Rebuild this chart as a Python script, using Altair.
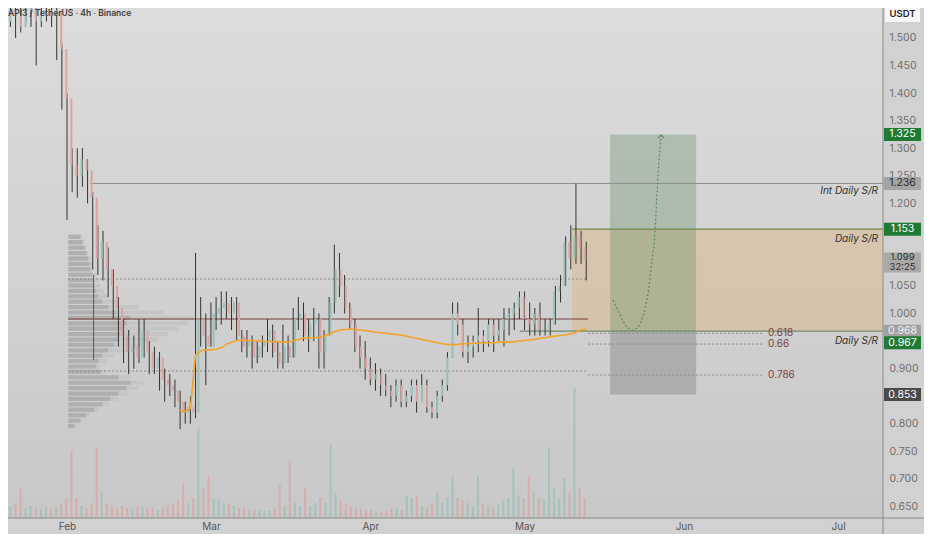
import altair as alt
import pandas as pd

# ---------------- data ----------------
TITLE = "API3 / TetherUS · 4h · Binance"
FIRST_DAY = "2025-01-19"

opens = [1.54, 1.53, 1.55, 1.54, 1.52, 1.55, 1.56, 1.53, 1.54, 1.55,
         1.54, 1.55, 1.48, 1.39, 1.27, 1.25, 1.28, 1.26, 1.21, 1.10,
         1.13, 1.08, 1.05, 1.01, 0.96, 0.93, 0.94, 0.92, 0.97, 0.93,
         0.90, 0.92, 0.88, 0.87, 0.86, 0.84, 0.82, 0.83, 0.82, 0.99,
         0.96, 0.94, 1.00, 1.01, 1.02, 1.00, 1.02, 0.96, 0.94, 0.95,
         0.92, 0.94, 0.95, 0.97, 0.93, 0.91, 0.94, 0.92, 0.99, 1.00,
         0.96, 0.98, 0.99, 0.93, 0.96, 1.02, 1.08, 1.05, 1.01, 0.98,
         0.94, 0.92, 0.90, 0.88, 0.89, 0.87, 0.86, 0.85, 0.87, 0.84,
         0.85, 0.87, 0.84, 0.87, 0.83, 0.82, 0.85, 0.87, 0.92, 1.00,
         0.98, 0.93, 0.94, 0.95, 0.96, 0.95, 0.98, 0.96, 0.97, 0.99,
         1.00, 1.01, 1.03, 0.99, 0.98, 1.00, 0.97, 0.97, 0.98, 1.04,
         1.05, 1.13, 1.10, 1.14, 1.12]
highs = [1.57, 1.56, 1.57, 1.57, 1.56, 1.57, 1.57, 1.56, 1.57, 1.57,
         1.57, 1.57, 1.49, 1.40, 1.30, 1.30, 1.30, 1.28, 1.22, 1.16,
         1.15, 1.12, 1.08, 1.03, 0.99, 0.97, 0.96, 0.99, 0.99, 0.95,
         0.94, 0.93, 0.90, 0.89, 0.88, 0.86, 0.84, 0.85, 1.11, 1.03,
         1.00, 1.02, 1.03, 1.04, 1.04, 1.03, 1.03, 0.97, 0.97, 0.96,
         0.95, 0.96, 0.99, 0.98, 0.95, 0.98, 0.96, 1.01, 1.03, 1.02,
         0.99, 1.01, 1.00, 0.97, 1.03, 1.125, 1.11, 1.07, 1.02, 0.99,
         0.96, 0.95, 0.92, 0.91, 0.90, 0.89, 0.87, 0.88, 0.88, 0.86,
         0.88, 0.88, 0.89, 0.88, 0.84, 0.86, 0.88, 0.93, 1.02, 1.02,
         0.99, 0.96, 0.96, 1.01, 0.97, 0.99, 0.99, 0.99, 1.01, 1.01,
         1.02, 1.04, 1.04, 1.02, 1.01, 1.02, 0.99, 0.99, 1.05, 1.07,
         1.14, 1.16, 1.236, 1.15, 1.13]
lows = [1.52, 1.50, 1.52, 1.50, 1.51, 1.53, 1.52, 1.45, 1.52, 1.53,
        1.52, 1.46, 1.37, 1.17, 1.22, 1.21, 1.23, 1.20, 1.08, 1.07,
        1.06, 1.03, 0.99, 0.94, 0.91, 0.89, 0.90, 0.91, 0.92, 0.89,
        0.89, 0.86, 0.84, 0.85, 0.83, 0.79, 0.80, 0.80, 0.81, 0.94,
        0.87, 0.94, 0.97, 0.98, 0.99, 0.97, 0.95, 0.93, 0.92, 0.90,
        0.91, 0.92, 0.93, 0.92, 0.90, 0.90, 0.91, 0.92, 0.97, 0.95,
        0.93, 0.95, 0.90, 0.90, 0.96, 1.00, 1.03, 1.00, 0.97, 0.93,
        0.90, 0.88, 0.87, 0.86, 0.85, 0.85, 0.83, 0.84, 0.83, 0.83,
        0.84, 0.82, 0.84, 0.82, 0.81, 0.81, 0.84, 0.86, 0.92, 0.96,
        0.92, 0.91, 0.92, 0.93, 0.93, 0.94, 0.93, 0.95, 0.94, 0.96,
        0.97, 0.99, 0.97, 0.96, 0.96, 0.96, 0.96, 0.96, 0.98, 1.02,
        1.05, 1.08, 1.09, 1.09, 1.06]
closes = [1.53, 1.55, 1.54, 1.52, 1.55, 1.56, 1.53, 1.54, 1.55, 1.54,
          1.55, 1.48, 1.39, 1.27, 1.25, 1.28, 1.26, 1.21, 1.10, 1.13,
          1.08, 1.05, 1.01, 0.96, 0.93, 0.94, 0.92, 0.97, 0.93, 0.90,
          0.92, 0.88, 0.87, 0.86, 0.84, 0.82, 0.83, 0.82, 0.99, 0.96,
          0.94, 1.00, 1.01, 1.02, 1.00, 1.02, 0.96, 0.94, 0.95, 0.92,
          0.94, 0.95, 0.97, 0.93, 0.91, 0.94, 0.92, 0.99, 1.00, 0.96,
          0.98, 0.99, 0.93, 0.96, 1.02, 1.08, 1.05, 1.01, 0.98, 0.94,
          0.92, 0.90, 0.88, 0.89, 0.87, 0.86, 0.85, 0.87, 0.84, 0.85,
          0.87, 0.84, 0.87, 0.83, 0.82, 0.85, 0.87, 0.92, 1.00, 0.98,
          0.93, 0.94, 0.95, 0.96, 0.95, 0.98, 0.96, 0.97, 0.99, 1.00,
          1.01, 1.03, 0.99, 0.98, 1.00, 0.97, 0.97, 0.98, 1.04, 1.05,
          1.13, 1.10, 1.14, 1.12, 1.099]
volumes = [45, 12, 14, 30, 10, 12, 10, 9, 11, 10,
           12, 14, 20, 67, 20, 12, 10, 15, 70, 25,
           15, 12, 10, 12, 10, 9, 11, 12, 9, 10,
           8, 10, 12, 14, 18, 35, 15, 20, 90, 30,
           42, 20, 18, 15, 14, 12, 10, 10, 8, 9,
           8, 7, 8, 10, 33, 12, 57, 15, 12, 30,
           12, 15, 20, 15, 73, 25, 18, 14, 12, 10,
           9, 8, 8, 7, 6, 7, 9, 10, 8, 22,
           20, 22, 12, 10, 15, 25, 15, 20, 42, 20,
           18, 15, 12, 42, 15, 12, 10, 14, 18, 20,
           50, 22, 20, 42, 25, 20, 18, 70, 30, 20,
           40, 25, 130, 30, 20]

VWAP_FIRST_INDEX = 35
vwap = [0.825, 0.822, 0.828, 0.925, 0.932, 0.934, 0.934, 0.935, 0.938, 0.944,
        0.948, 0.951, 0.952, 0.951, 0.951, 0.950, 0.950, 0.949, 0.949, 0.949,
        0.948, 0.948, 0.950, 0.953, 0.955, 0.956, 0.956, 0.957, 0.959, 0.963,
        0.967, 0.970, 0.971, 0.972, 0.971, 0.970, 0.969, 0.968, 0.966, 0.965,
        0.964, 0.963, 0.962, 0.961, 0.959, 0.957, 0.955, 0.953, 0.951, 0.949,
        0.947, 0.945, 0.944, 0.943, 0.944, 0.945, 0.945, 0.946, 0.946, 0.947,
        0.947, 0.947, 0.948, 0.948, 0.948, 0.949, 0.950, 0.951, 0.952, 0.953,
        0.955, 0.956, 0.958, 0.959, 0.960, 0.961, 0.963, 0.966, 0.970, 0.972]

profile_price = [1.14, 1.13, 1.12, 1.11, 1.10, 1.09, 1.08, 1.07, 1.06, 1.05,
                 1.04, 1.03, 1.02, 1.01, 1.00, 0.99, 0.98, 0.97, 0.96, 0.95,
                 0.94, 0.93, 0.92, 0.91, 0.90, 0.89, 0.88, 0.87, 0.86, 0.85,
                 0.84, 0.83, 0.82, 0.81, 0.80, 0.79]
profile_inner = [12, 14, 16, 18, 20, 21, 22, 24, 25, 26, 28, 30, 34, 40, 48, 62, 58, 55,
                 52, 50, 46, 40, 34, 30, 28, 32, 50, 62, 58, 50, 42, 34, 26, 18, 12, 6]
profile_outer = [14, 16, 18, 20, 23, 24, 25, 28, 30, 32, 36, 40, 50, 70, 95, 125, 120, 110,
                 100, 90, 75, 60, 45, 38, 32, 38, 62, 75, 70, 60, 50, 40, 30, 22, 14, 8]

price_ticks = [0.65, 0.70, 0.75, 0.80, 0.90, 1.00, 1.05, 1.20, 1.25, 1.30,
               1.35, 1.40, 1.45, 1.50]
month_ticks = [2, 3, 4, 5, 6, 7]

VIEW_START = alt.DateTime(year=2025, month=1, date=20, hours=12, minutes=30)
VIEW_END = alt.DateTime(year=2025, month=7, date=9, hours=17, minutes=30)
VIEW_END_STR = "2025-07-09T17:30:00"
PRICE_MIN, PRICE_MAX = 0.6289, 1.5544

int_sr_level, int_sr_start = 1.236, "2025-02-05T11:00:00"
sr_top_level, sr_top_start = 1.153, "2025-05-10T06:00:00"
sr_bot_level, sr_bot_start = 0.968, "2025-04-30T02:00:00"
left_start, left_end = "2025-02-01T05:00:00", "2025-05-13T08:40:00"
poc_level = 0.990
dotted_levels = [1.0626, 0.8956]
marker_time, marker_low, marker_high = "2025-02-06T04:00:00", 0.916, 1.070

fib_names = ["0.618", "0.66", "0.786"]
fib_prices = [0.964, 0.9446, 0.8884]
fib_start, fib_end, fib_label_time = "2025-05-13T09:30:00", "2025-06-16T09:30:00", "2025-06-17T09:00:00"

box_start, box_end = "2025-05-17T15:20:00", "2025-06-03T09:00:00"
target_price, entry_price, stop_price = 1.325, 0.967, 0.853
last_price, countdown = 1.099, "32:25"

curve_times = ["2025-05-18T05:30:00", "2025-05-19T05:00:00", "2025-05-20T04:00:00",
               "2025-05-21T03:20:00", "2025-05-21T22:00:00", "2025-05-22T21:20:00",
               "2025-05-23T16:00:00", "2025-05-24T10:50:00", "2025-05-25T01:00:00",
               "2025-05-25T15:00:00", "2025-05-26T09:40:00", "2025-05-26T19:00:00",
               "2025-05-27T04:20:00", "2025-05-27T13:30:00"]
curve_prices = [1.0245, 1.0045, 0.9864, 0.9737, 0.9701, 0.9737, 0.9846, 1.0100,
                1.0372, 1.0826, 1.1515, 1.2241, 1.2786, 1.3240]

sr_label_time = "2025-07-08T18:20:00"
sr_labels = ["Int Daily S/R", "Daily S/R", "Daily S/R"]
sr_label_prices = [1.2223, 1.1352, 0.950]

# ---------------- tables ----------------
day0 = pd.Timestamp(FIRST_DAY)
times = [(day0 + pd.Timedelta(days=i)).strftime("%Y-%m-%dT%H:%M:%S") for i in range(len(opens))]
candles = pd.DataFrame({"t": times, "o": opens, "h": highs, "l": lows, "c": closes, "v": volumes})
candles["dir"] = ["up" if c >= o else "down" for o, c in zip(opens, closes)]
vw = pd.DataFrame({"t": times[VWAP_FIRST_INDEX:], "p": vwap})
prof = pd.DataFrame({"price": profile_price, "inner": profile_inner, "outer": profile_outer})
one = pd.DataFrame({"k": [0]})

W, H = 875, 510
AX_R, AX_B = 41, 16
FONT = "Inter"
xs = alt.Scale(domain=[VIEW_START, VIEW_END])
ys = alt.Scale(domain=[PRICE_MIN, PRICE_MAX], nice=False, zero=False)


def X(f, axis=None):
    return alt.X(f, type="temporal", scale=xs, axis=axis)


def Y(f, axis=None):
    return alt.Y(f, type="quantitative", scale=ys, axis=axis)


def seg(t0, t1, p):
    return pd.DataFrame({"t0": [t0], "t1": [t1], "p": [p]})


def rule(df, color, width=1.0, dash=None):
    kw = dict(color=color, strokeWidth=width)
    if dash:
        kw["strokeDash"] = dash
    return alt.Chart(df).mark_rule(**kw).encode(x=X("t0"), x2="t1", y=Y("p"))


bg = alt.Chart(one).mark_rect(
    color=alt.Gradient(gradient="linear",
                       stops=[alt.GradientStop(color="#dcdcdc", offset=0),
                              alt.GradientStop(color="#c8c8c8", offset=1)],
                       x1=0, x2=0, y1=0, y2=1)
).encode(x=alt.value(0), x2=alt.value(W), y=alt.value(0), y2=alt.value(H))

vol = alt.Chart(candles).mark_bar(size=2, opacity=0.75).encode(
    x=X("t"),
    y=alt.Y("v:Q", scale=alt.Scale(domain=[0, H]), axis=None),
    color=alt.Color("dir:N", scale=alt.Scale(domain=["up", "down"], range=["#97c2b5", "#dba3a3"]), legend=None),
)

pscale = alt.Scale(domain=[-60.3, W - 60.3], nice=False, zero=False)
prof_outer = alt.Chart(prof).mark_bar(orient="horizontal", size=4.2, color="#c5c5c5").encode(
    x=alt.X("outer:Q", scale=pscale, axis=None), x2=alt.datum(0), y=Y("price"))
prof_inner = alt.Chart(prof).mark_bar(orient="horizontal", size=4.2, color="#afafaf").encode(
    x=alt.X("inner:Q", scale=pscale, axis=None), x2=alt.datum(0), y=Y("price"))

zone = alt.Chart(pd.DataFrame({"t0": [sr_top_start], "t1": [VIEW_END_STR], "p0": [sr_bot_level], "p1": [sr_top_level]})
                 ).mark_rect(color="#dcb57e", opacity=0.45).encode(x=X("t0"), x2="t1", y=Y("p0"), y2="p1")
gbox = alt.Chart(pd.DataFrame({"t0": [box_start], "t1": [box_end], "p0": [entry_price], "p1": [target_price]})
                 ).mark_rect(color="#6a8f6d", opacity=0.36).encode(x=X("t0"), x2="t1", y=Y("p0"), y2="p1")
rbox = alt.Chart(pd.DataFrame({"t0": [box_start], "t1": [box_end], "p0": [stop_price], "p1": [entry_price]})
                 ).mark_rect(color="#7a7a7a", opacity=0.38).encode(x=X("t0"), x2="t1", y=Y("p0"), y2="p1")

lines = [
    rule(seg(int_sr_start, VIEW_END_STR, int_sr_level), "#8e8e8e", 1.0),
    rule(seg(sr_top_start, VIEW_END_STR, sr_top_level), "#6d8a4c", 1.3),
    rule(seg(sr_bot_start, VIEW_END_STR, sr_bot_level), "#6f8c6a", 1.3),
    rule(seg(left_start, left_end, poc_level), "#7b3a3a", 1.0),
    rule(pd.DataFrame({"t0": [left_start] * 2, "t1": [left_end] * 2, "p": dotted_levels}), "#8a8a8a", 1.0, [2, 2]),
    rule(pd.DataFrame({"t0": [fib_start] * 3, "t1": [fib_end] * 3, "p": fib_prices}), "#8a8a8a", 1.0, [2, 2]),
]
marker = alt.Chart(pd.DataFrame({"t": [marker_time], "lo": [marker_low], "hi": [marker_high]})).mark_rule(
    color="#5a5a5a", strokeWidth=1).encode(x=X("t"), y=Y("lo"), y2="hi")

wick = alt.Chart(candles).mark_rule(color="#333333", strokeWidth=1, clip=True).encode(
    x=X("t", alt.Axis(values=[alt.DateTime(year=2025, month=m, date=1) for m in month_ticks],
                      format="%b", title=None, ticks=False, grid=False, domain=False,
                      labelFont=FONT, labelFontSize=10, labelColor="#555555", labelPadding=3,
                      minExtent=AX_B)),
    y=Y("l", alt.Axis(orient="right", values=price_ticks, format=".3f", title=None, ticks=False,
                      grid=False, domain=False, labelAlign="left", labelPadding=6, labelFont=FONT,
                      labelFontSize=10.5, labelColor="#6e6e6e", minExtent=AX_R)),
    y2="h",
)
body = alt.Chart(candles).mark_bar(size=2, clip=True).encode(
    x=X("t"), y=Y("o"), y2="c",
    color=alt.Color("dir:N", scale=alt.Scale(domain=["up", "down"], range=["#6a6a6a", "#2b2b2b"]), legend=None),
)
vwap_line = alt.Chart(vw).mark_line(color="#f2a42a", strokeWidth=1.6).encode(x=X("t"), y=Y("p"))

curve_df = pd.DataFrame({"t": curve_times, "p": curve_prices})
curve = alt.Chart(curve_df).mark_line(color="#5b8a5e", strokeWidth=1.2, strokeDash=[2, 2],
                                      interpolate="monotone").encode(x=X("t"), y=Y("p"))
arrow = alt.Chart(curve_df.tail(1)).mark_point(shape="M-0.75,0.75L0,0L0.75,0.75", filled=False, size=64,
                                               color="#5b8a5e", strokeWidth=1.1, opacity=1).encode(
    x=X("t"), y=Y("p"))

sr_text = alt.Chart(pd.DataFrame({"t": [sr_label_time] * 3, "p": sr_label_prices, "s": sr_labels})).mark_text(
    align="right", baseline="middle", font=FONT, fontSize=10, fontStyle="italic", color="#2f2f2f"
).encode(x=X("t"), y=Y("p"), text="s:N")
fib_text = alt.Chart(pd.DataFrame({"t": [fib_label_time] * 3, "p": fib_prices, "s": fib_names})).mark_text(
    align="left", baseline="middle", font=FONT, fontSize=10, color="#7b3d3d"
).encode(x=X("t"), y=Y("p"), text="s:N")

title = alt.Chart(one).mark_text(text=TITLE, align="left", baseline="middle", font=FONT, fontSize=8.5,
                                 fontWeight=600, color="#3d3d3d").encode(x=alt.value(0), y=alt.value(5))

# price tags on the right scale
TAG_X = W + 19.5
TAG_PATH = "M-1,-0.351L1,-0.351L1,0.351L-1,0.351Z"
TALL_PATH = "M-1,-0.54L1,-0.54L1,0.54L-1,0.54Z"


def tag_box(prices, bg_color, shape=TAG_PATH, dy=0.0):
    df = pd.DataFrame({"p": prices})
    return alt.Chart(df).mark_point(shape=shape, size=1369, filled=True, color=bg_color, opacity=1,
                                    strokeWidth=0, yOffset=dy).encode(x=alt.value(TAG_X), y=Y("p"))


def tag_text(labels, prices, fg_color, dy=0.0, size=10.5):
    df = pd.DataFrame({"s": labels, "p": prices})
    return alt.Chart(df).mark_text(align="center", baseline="middle", font=FONT, fontSize=size,
                                   color=fg_color, yOffset=dy).encode(
        x=alt.value(TAG_X), y=Y("p"), text="s:N")


tags = [
    tag_box([target_price, sr_top_level], "#1f7a33"),
    tag_text(["1.325", "1.153"], [target_price, sr_top_level], "#ffffff"),
    tag_box([int_sr_level], "#a4a4a4"),
    tag_text(["1.236"], [int_sr_level], "#2b2b2b"),
    tag_box([last_price], "#a9a9a9", TALL_PATH, 3.5),
    tag_text(["1.099"], [last_price], "#2e2e2e", -1.5, 9.5),
    tag_text([countdown], [last_price], "#2e2e2e", 8.5, 9.5),
    tag_box([sr_bot_level], "#a0a0a0"),
    tag_text(["0.968"], [sr_bot_level], "#f2f2f2"),
    tag_box([entry_price], "#1f7a33", TAG_PATH, 11),
    tag_text(["0.967"], [entry_price], "#ffffff", 11),
    tag_box([stop_price], "#4a4a4a"),
    tag_text(["0.853"], [stop_price], "#ffffff"),
]

usdt_box = alt.Chart(one).mark_point(shape="M-1,-0.514L1,-0.514L1,0.514L-1,0.514Z", size=1225, filled=True,
                                     color="#f6f6f6", opacity=1, strokeWidth=0).encode(
    x=alt.value(TAG_X), y=alt.value(5))
usdt_txt = alt.Chart(one).mark_text(text="USDT", align="center", baseline="middle", font=FONT, fontSize=9.5,
                                    fontWeight=600, color="#222222").encode(x=alt.value(TAG_X), y=alt.value(6))

hsep = alt.Chart(one).mark_rule(color="#8a8a8a", strokeWidth=1).encode(
    x=alt.value(0), x2=alt.value(W + AX_R), y=alt.value(H))
vsep = alt.Chart(one).mark_rule(color="#8a8a8a", strokeWidth=1).encode(
    x=alt.value(W), y=alt.value(0), y2=alt.value(H + AX_B))

chart = alt.layer(
    bg, vol, prof_outer, prof_inner, zone, gbox, rbox, *lines, marker,
    wick, body, vwap_line, curve, arrow, sr_text, fib_text, title,
    *tags, usdt_box, usdt_txt, hsep, vsep,
).resolve_scale(x="independent", y="independent").properties(
    width=W, height=H, background="#d1d1d1",
    padding={"left": 0, "top": 0, "right": AX_R, "bottom": AX_B},
    autosize=alt.AutoSizeParams(type="none"),
).configure_view(stroke=None)

chart.save("out.html", embed_options={"renderer": "svg", "actions": False})
